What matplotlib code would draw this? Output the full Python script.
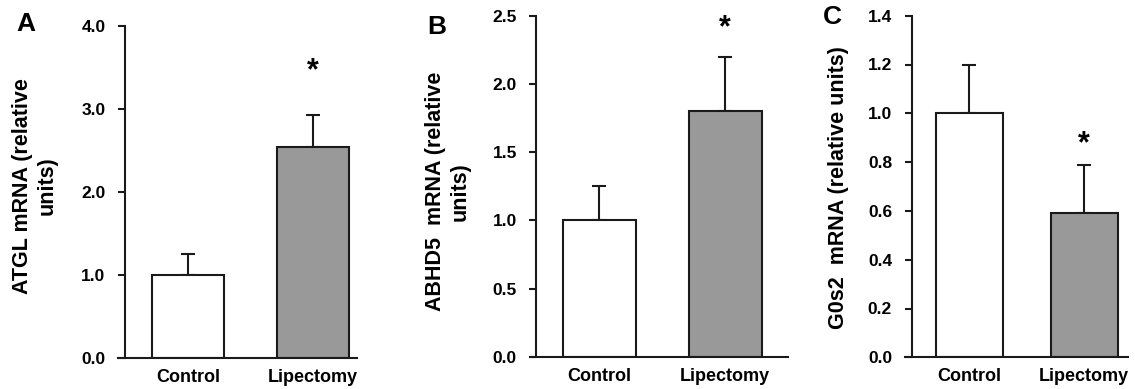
import matplotlib
matplotlib.use("Agg")
import matplotlib.pyplot as plt
import numpy as np

plt.rcParams['font.family'] = ['Liberation Sans', 'DejaVu Sans']
plt.rcParams['font.weight'] = 'bold'

categories = ['Control', 'Lipectomy']

atgl = [1.0, 2.54]
atgl_err = [0.25, 0.39]
abhd5 = [1.0, 1.80]
abhd5_err = [0.25, 0.40]
g0s2 = [1.0, 0.59]
g0s2_err = [0.20, 0.20]

ylabels = ['ATGL mRNA (relative\nunits)', 'ABHD5  mRNA (relative\nunits)',
           'G0s2  mRNA (relative units)']
letters = ['A', 'B', 'C']

W, H = 1135, 389
fig = plt.figure(figsize=(W / 100, H / 100), dpi=100)


def px_axes(x0, x1, ytop, ybot):
    return fig.add_axes([x0 / W, 1 - ybot / H, (x1 - x0) / W, (ybot - ytop) / H])


panels = [
    dict(box=(118, 357, 26, 358), vals=atgl, err=atgl_err, ymax=4.0,
         ticks=np.arange(0, 4.01, 1.0), xlim=(-0.56, 1.35), sx=-0.504,
         lab=(-0.347, 0.518), star=(1, 3.45), let=(26, 24)),
    dict(box=(530, 788, 15.7, 357), vals=abhd5, err=abhd5_err, ymax=2.5,
         ticks=np.arange(0, 2.51, 0.5), xlim=(-0.55, 1.5), sx=-0.50,
         lab=(-0.318, 0.486), star=(1, 2.41), let=(437, 27)),
    dict(box=(905, 1128, 15.7, 357.3), vals=g0s2, err=g0s2_err, ymax=1.4,
         ticks=np.arange(0, 1.41, 0.2), xlim=(-0.557, 1.38), sx=-0.50,
         lab=(-0.296, 0.496), star=(1, 0.875), let=(832, 17)),
]

for p, ylab, letter in zip(panels, ylabels, letters):
    ax = px_axes(*p['box'])
    # spine position first: it resets the ticks
    for s in ['top', 'right']:
        ax.spines[s].set_visible(False)
    ax.spines['left'].set_position(('data', p['sx']))
    for s in ['left', 'bottom']:
        ax.spines[s].set_linewidth(1.5)
        ax.spines[s].set_color('#1a1a1a')

    x = np.arange(len(categories))
    ax.bar(x, p['vals'], width=0.58, color=['white', '#999999'],
           edgecolor='#1a1a1a', linewidth=1.5, zorder=2)
    ax.errorbar(x, p['vals'], yerr=[[0, 0], p['err']], fmt='none',
                ecolor='#1a1a1a', elinewidth=1.5, capsize=5, capthick=1.5, zorder=1)
    ax.set_xlim(*p['xlim'])
    ax.set_ylim(0, p['ymax'])
    ax.set_yticks(p['ticks'])
    ax.set_yticklabels([f'{t:.1f}' for t in p['ticks']], fontweight='bold')
    ax.set_xticks(x)
    ax.set_xticklabels(categories, fontweight='bold')
    ax.tick_params(axis='x', length=0, pad=8, labelsize=13)
    ax.tick_params(axis='y', length=5, width=1.5, direction='out', pad=9,
                   color='#1a1a1a', labelsize=12.5)
    ax.set_ylabel(ylab, fontsize=15.5, fontweight='bold', va='center', linespacing=1.25)
    ax.yaxis.set_label_coords(*p['lab'])
    ax.text(p['star'][0], p['star'][1], '*', fontsize=22, fontweight='bold',
            ha='center', va='center')
    fig.text(p['let'][0] / W, 1 - p['let'][1] / H, letter, fontsize=19,
             fontweight='bold', ha='center', va='center')

fig.savefig('out.png', dpi=100)
